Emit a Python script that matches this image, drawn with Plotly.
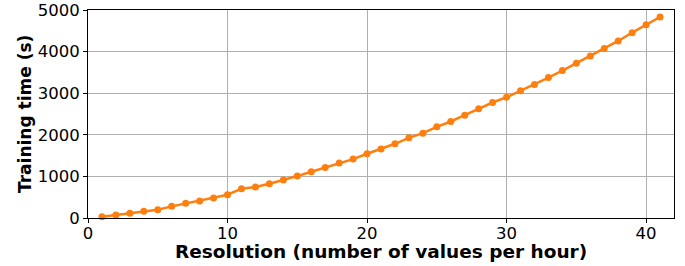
import plotly.graph_objects as go

resolution = list(range(1, 42))
training_time = [30, 72, 112, 160, 200, 280, 352, 408, 480, 560,
                 704, 744, 824, 912, 1008, 1112, 1216, 1320, 1416, 1544,
                 1656, 1784, 1928, 2040, 2192, 2320, 2472, 2624, 2776, 2904,
                 3056, 3208, 3376, 3544, 3720, 3896, 4072, 4256, 4456, 4648, 4832]
x_ticks = [0, 10, 20, 30, 40]
y_ticks = [0, 1000, 2000, 3000, 4000, 5000]

fig = go.Figure(go.Scatter(
    x=resolution, y=training_time, mode="lines+markers",
    line=dict(color="#ff7f0e", width=2.5),
    marker=dict(color="#ff7f0e", size=7),
    cliponaxis=False,
))

axis_common = dict(
    showline=True, linecolor="black", linewidth=1, mirror=True,
    ticks="outside", ticklen=4, tickcolor="black",
    showgrid=True, gridcolor="#b0b0b0", gridwidth=1, zeroline=False,
    tickfont=dict(family="DejaVu Sans", size=16.5, color="black"),
    automargin=False,
)

fig.update_layout(
    width=685, height=266,
    margin=dict(l=88, r=11, t=10, b=48),
    plot_bgcolor="white", paper_bgcolor="white",
    showlegend=False,
    xaxis=dict(range=[0, 42], tickvals=x_ticks, ticklabelstandoff=-4, **axis_common),
    yaxis=dict(range=[0, 5000], tickvals=y_ticks, **axis_common),
    annotations=[
        dict(text="<b>Resolution (number of values per hour)</b>",
             xref="paper", yref="paper", x=0.5, y=-0.16,
             xanchor="center", yanchor="middle", showarrow=False,
             font=dict(family="DejaVu Sans", size=18.5, color="black")),
        dict(text="<b>Training time (s)</b>",
             xref="paper", yref="paper", x=-0.1075, y=0.5,
             xanchor="center", yanchor="middle", showarrow=False, textangle=-90,
             font=dict(family="DejaVu Sans", size=17, color="black")),
    ],
)

fig.write_html("out.html", config={"displayModeBar": False},
               post_script="document.body.style.margin='0';document.body.style.overflow='hidden';")
